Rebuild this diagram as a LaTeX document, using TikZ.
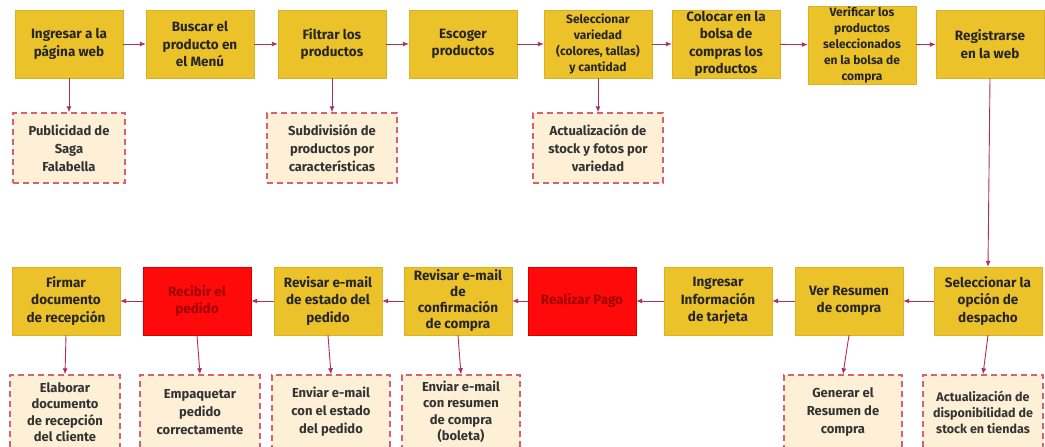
\documentclass[tikz,border=0pt]{standalone}
\usepackage{fontspec}
\setmainfont{Fira Sans}
\usetikzlibrary{arrows.meta}

\definecolor{amarillo}{HTML}{ECC22A}
\definecolor{rojo}{HTML}{FF0A0A}
\definecolor{rojotexto}{HTML}{A00000}
\definecolor{crema}{HTML}{FDF0D6}
\definecolor{borde}{HTML}{D9606E}
\definecolor{flechacol}{HTML}{B0305A}

\begin{document}
\begin{tikzpicture}[x=1pt,y=-1pt,
  paso/.style={fill=amarillo, draw=amarillo!92!black, line width=0.4pt, minimum width=108pt, minimum height=68pt, align=center, inner sep=1pt, text=black!85, font=\bfseries\fontsize{13.5}{17.5}\selectfont},
  pasochico/.style={paso, font=\bfseries\fontsize{12}{16}\selectfont},
  pasorojo/.style={paso, fill=rojo, draw=red!85!black, text=rojotexto},
  nota/.style={fill=crema, draw=borde, dash pattern=on 6pt off 4pt, line width=1.4pt, minimum height=70pt, align=center, inner sep=1pt, text=black!80, font=\bfseries\fontsize{13}{18}\selectfont},
  flecha/.style={draw=flechacol, line width=0.9pt, -{Latex[length=6pt,width=5pt]}}]
\useasboundingbox (0,0) rectangle (1045,447);

\node[paso] (ingresar) at (69,44) {Ingresar a la\\página web};
\node[paso] (buscar) at (200,44) {Buscar el\\producto en\\el Menú};
\node[paso] (filtrar) at (332,44) {Filtrar los\\productos};
\node[paso] (escoger) at (463,44) {Escoger\\productos};
\node[pasochico] (variedad) at (598,44) {Seleccionar\\variedad\\(colores, tallas)\\y cantidad};
\node[paso] (colocar) at (726,44) {Colocar en la\\bolsa de\\compras los\\productos};
\node[pasochico] (verificar) at (862,45) {Verificar los\\productos\\seleccionados\\en la bolsa de\\compra};
\node[paso] (registrar) at (990,44) {Registrarse\\en la web};

\node[nota, minimum width=112pt] (publicidad) at (69,148) {Publicidad de\\Saga\\Falabella};
\node[nota, minimum width=130pt] (subdividir) at (332,148) {Subdivisión de\\productos por\\características};
\node[nota, minimum width=130pt] (fotos) at (598,148) {Actualización de\\stock y fotos por\\variedad};

\node[paso] (firmar) at (66,301) {Firmar\\documento\\de recepción};
\node[pasorojo] (recibir) at (197,301) {Recibir el\\pedido};
\node[paso] (estado) at (328,301) {Revisar e-mail\\de estado del\\pedido};
\node[paso, font=\bfseries\fontsize{13.5}{16}\selectfont] (confirmar) at (458,301) {Revisar e-mail\\de\\confirmación\\de compra};
\node[pasorojo] (pago) at (582,301) {Realizar Pago};
\node[paso] (tarjeta) at (718,301) {Ingresar\\Información\\de tarjeta};
\node[paso] (resumen) at (849,301) {Ver Resumen\\de compra};
\node[paso] (despacho) at (988,301) {Seleccionar la\\opción de\\despacho};

\node[nota, minimum width=110pt, minimum height=74pt, font=\bfseries\fontsize{13}{16.5}\selectfont] (elaborar) at (65,412) {Elaborar\\documento\\de recepción\\del cliente};
\node[nota, minimum width=120pt, minimum height=74pt] (empaquetar) at (200,412) {Empaquetar\\pedido\\correctamente};
\node[nota, minimum width=118pt, minimum height=74pt] (enviarestado) at (331,412) {Enviar e-mail\\con el estado\\del pedido};
\node[nota, minimum width=118pt, minimum height=74pt, font=\bfseries\fontsize{13}{16.5}\selectfont] (boleta) at (461,412) {Enviar e-mail\\con resumen\\de compra\\(boleta)};
\node[nota, minimum width=118pt, minimum height=74pt] (generar) at (843,412) {Generar el\\Resumen de\\compra};
\node[nota, minimum width=120pt, minimum height=74pt, font=\bfseries\fontsize{12.5}{16}\selectfont] (tiendas) at (983,412) {Actualización de\\disponibilidad de\\stock en tiendas};

\draw[flecha] (ingresar) -- (buscar);
\draw[flecha] (buscar) -- (filtrar);
\draw[flecha] (filtrar) -- (escoger);
\draw[flecha] (escoger) -- (variedad);
\draw[flecha] (variedad) -- (colocar);
\draw[flecha] (colocar) -- (verificar);
\draw[flecha] (verificar) -- (registrar);
\draw[flecha] (registrar.south) -- (despacho.north);
\draw[flecha] (despacho) -- (resumen);
\draw[flecha] (resumen) -- (tarjeta);
\draw[flecha] (tarjeta) -- (pago);
\draw[flecha] (pago) -- (confirmar);
\draw[flecha] (confirmar) -- (estado);
\draw[flecha] (estado) -- (recibir);
\draw[flecha] (recibir) -- (firmar);

\draw[flecha] (ingresar.south) -- (publicidad.north);
\draw[flecha] (filtrar.south) -- (subdividir.north);
\draw[flecha] (variedad.south) -- (fotos.north);
\draw[flecha] (firmar.south) -- (elaborar.north);
\draw[flecha] (recibir.south) -- (empaquetar.north);
\draw[flecha] (estado.south) -- (enviarestado.north);
\draw[flecha] (confirmar.south) -- (boleta.north);
\draw[flecha] (resumen.south) -- (generar.north);
\draw[flecha] (despacho.south) -- (tiendas.north);
\end{tikzpicture}
\end{document}
